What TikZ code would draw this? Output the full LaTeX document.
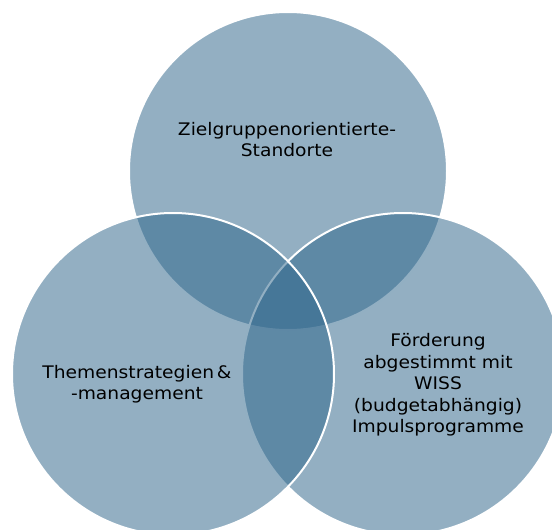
\documentclass[tikz,border=0pt]{standalone}
\usepackage{fontspec}
\setmainfont{DejaVu Sans}[FakeStretch=1.08]

\definecolor{vennblue}{RGB}{47,102,139}

\tikzset{
  venn/.style={fill=vennblue, fill opacity=0.52, draw=white, line width=2pt},
  vtext/.style={align=center, inner sep=0pt, text=black,
    font=\fontsize{17.3}{21.5}\selectfont}
}

\begin{document}
\begin{tikzpicture}[x=1pt,y=-1pt]
\clip (0,0) rectangle (552,530);
% top, right, left -- the left ring is drawn last so its white rim stays on top
\draw[venn] (288,171) circle (159pt);
\draw[venn] (403,374) circle (161pt);
\draw[venn] (173,374) circle (161pt);
\node[vtext] (standorte) at (287,139.5) {Zielgruppenorientierte-\\Standorte};
\node[vtext] (themen) at (137,384) {Themenstrategien\,\&\\-management};
\node[vtext] (foerderung) at (438,385) {Förderung\\abgestimmt mit\\WISS\\(budgetabhängig)\\Impulsprogramme};
\end{tikzpicture}
\end{document}
